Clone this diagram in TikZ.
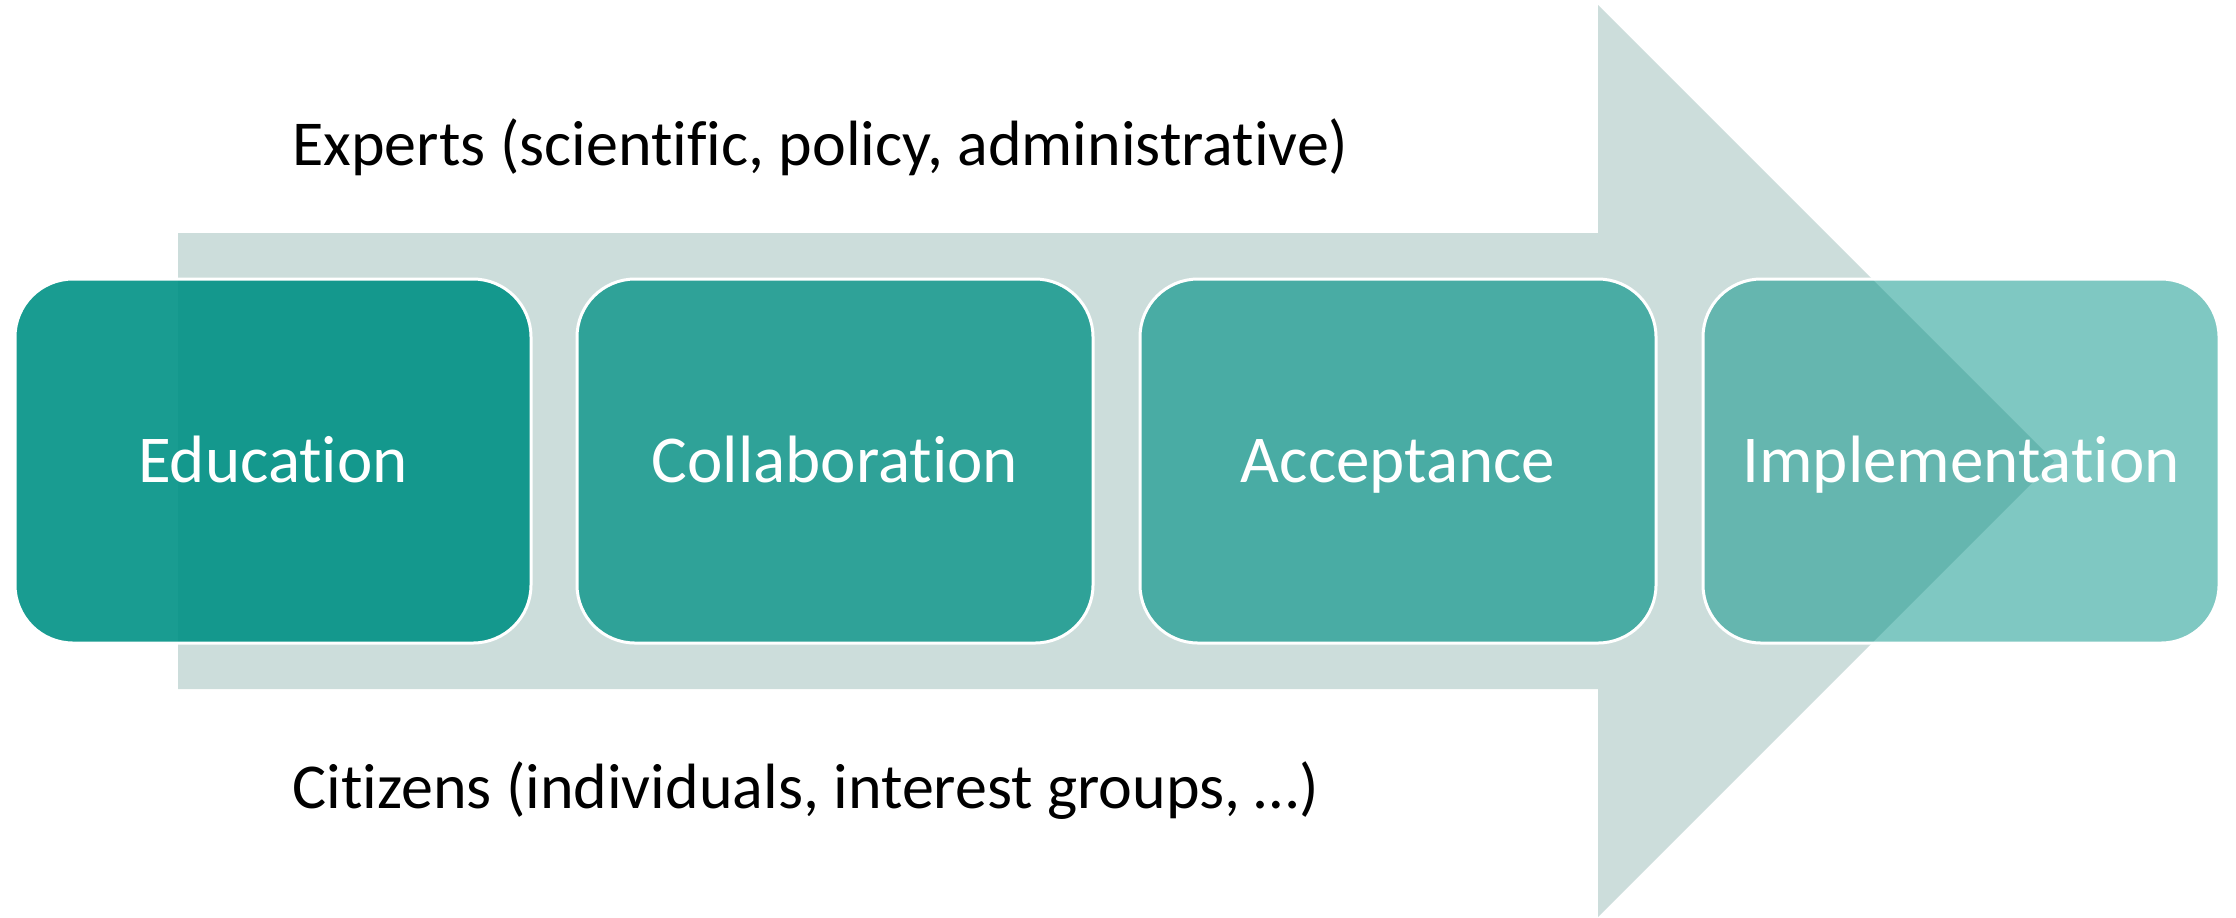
\documentclass[tikz,border=0pt]{standalone}
\usepackage{fontspec}
\setmainfont[Ligatures=NoCommon]{Carlito}
\definecolor{arrowgrey}{RGB}{204,221,219}
\definecolor{boxteal}{RGB}{0,145,133}
\begin{document}
\begin{tikzpicture}[x=0.5pt,y=-0.5pt,
  stage/.style={rounded corners=29pt, draw=white, line width=1.5pt, fill=boxteal,
    minimum width=258pt, minimum height=182pt, inner sep=0pt,
    text=white, text opacity=1, draw opacity=1,
    text height=21.5pt, text depth=0pt,
    font=\fontsize{33.5}{40}\selectfont},
  grouptext/.style={anchor=base west, inner sep=0pt, text=black,
    font=\fontsize{32}{38}\selectfont}
]
\useasboundingbox (0,0) rectangle (2236,917);
\fill[arrowgrey] (178,233) -- (1598,233) -- (1598,5) -- (2054,461) -- (1598,917) -- (1598,689) -- (178,689) -- cycle;
\node[stage, fill opacity=0.9]  (edu) at (273,461) {Education};
\node[stage, fill opacity=0.77] (col) at (835,461) {Collaboration};
\node[stage, fill opacity=0.64] (acc) at (1398,461) {Acceptance};
\node[stage, fill opacity=0.5]  (imp) at (1961,461) {Implementation};
\node[grouptext] (experts) at (292,165) {Experts (scientific, policy, administrative)};
\node[grouptext] (citizens) at (292,808) {Citizens (individuals, interest groups, …)};
\end{tikzpicture}
\end{document}
